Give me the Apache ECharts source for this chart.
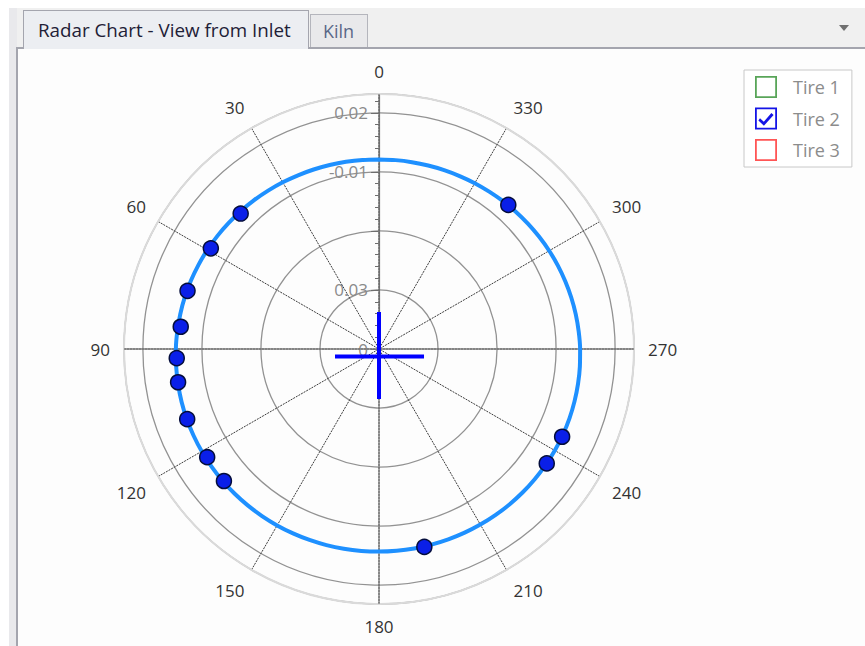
<!DOCTYPE html>
<html>
<head>
<meta charset="utf-8">
<script src="https://cdn.jsdelivr.net/npm/echarts@6/dist/echarts.min.js"></script>
<style>
  html, body { margin:0; padding:0; width:865px; height:646px; background:#ffffff; overflow:hidden; font-family:'Open Sans', sans-serif; }
  .strip { position:absolute; left:9px; top:8px; width:856px; height:40px; background:#f0f0f0; }
  .lstrip { position:absolute; left:9px; top:8px; width:8px; height:638px; background:#e9e9ec; }
  .content { position:absolute; left:16px; top:47px; width:849px; height:599px; background:#fdfdfd; border-left:2px solid #a4a5ae; border-top:2px solid #a4a5ae; box-sizing:border-box; }
  .tab1 { position:absolute; left:23px; top:10px; width:286px; height:39px; background:#eceef2; border:1px solid #a4a5ae; border-bottom:none; box-sizing:border-box; color:#1e2036; font-size:18.8px; line-height:38px; padding-left:14px; white-space:nowrap; }
  .tab2 { position:absolute; left:310px; top:14px; width:58px; height:33px; background:#e9e9eb; border:1px solid #b4b5bc; border-bottom:none; box-sizing:border-box; color:#5a6888; font-size:18px; line-height:32px; padding-left:12px; }
  .arrow { position:absolute; left:839px; top:25px; width:0; height:0; border-left:5px solid transparent; border-right:5px solid transparent; border-top:6px solid #707070; }
  #chart { position:absolute; left:18px; top:49px; width:847px; height:597px; }
</style>
</head>
<body>
<div class="strip"></div>
<div class="lstrip"></div>
<div class="content"></div>
<div class="tab1">Radar Chart - View from Inlet</div>
<div class="tab2">Kiln</div>
<div class="arrow"></div>
<div id="chart"></div>
<script>
// ---- data ----
const angleTickLabels = ['0','30','60','90','120','150','180','210','240','270','300','330'];
const angleTickValues = [0,30,60,90,120,150,180,210,240,270,300,330];
const radiusTickValues = [0,1,2,3,4];
const radiusTickLabels = ['0','0.03','','-0.01','0.02'];

const seriesNames = ['Tire 1','Tire 2','Tire 3'];

// Tire 2 fitted circle: radius read at every 5 degrees
const fitAngles = [0,5,10,15,20,25,30,35,40,45,50,55,60,65,70,75,80,85,90,95,100,105,110,115,120,125,130,135,140,145,150,155,160,165,170,175,
                   180,185,190,195,200,205,210,215,220,225,230,235,240,245,250,255,260,265,270,275,280,285,290,295,300,305,310,315,320,325,330,335,340,345,350,355,360];
const fitRadii  = [3.212,3.215,3.220,3.227,3.236,3.247,3.261,3.275,3.291,3.307,3.324,3.341,3.358,3.374,3.390,3.405,3.418,3.430,3.441,3.449,3.456,3.462,3.466,3.467,3.468,3.467,3.466,3.463,3.459,3.455,3.451,3.447,3.443,3.440,3.437,3.434,
                   3.432,3.431,3.431,3.431,3.432,3.433,3.434,3.436,3.438,3.439,3.439,3.440,3.439,3.437,3.434,3.429,3.423,3.416,3.407,3.396,3.385,3.372,3.358,3.344,3.329,3.313,3.298,3.283,3.269,3.255,3.244,3.233,3.225,3.218,3.214,3.212,3.212];

// Tire 2 measured points
const pointAngles = [45.6,59.1,73.1,83.6,92.6,99.4,110.1,122.2,130.4,192.9,235.7,244.4,318.1];
const pointRadii  = [3.28,3.32,3.39,3.38,3.43,3.45,3.46,3.44,3.45,3.44,3.44,3.44,3.28];

// Tire 2 centre cross (end points)
const crossHAngles = [99.7,260.6];
const crossHRadii  = [0.756,0.773];
const crossVAngles = [0,180];
const crossVRadii  = [0.627,0.847];

// ---- build ----
const zip = (r, a) => r.map((v, i) => [v, a[i]]);
const boxIcon = 'path://M0,0H22V22H0Z M1.8,1.8V20.2H20.2V1.8Z';
const checkIcon = 'path://M0,0H22V22H0Z M1.8,1.8V20.2H20.2V1.8Z M5,10.8L8.8,14.2L16.4,5.6L18.6,7.6L8.9,18.2L3.4,12.9Z';

const chart = echarts.init(document.getElementById('chart'), null, {renderer:'svg'});
const FONT = 'Open Sans';
const center = [361, 300];
const R = 255;

chart.setOption({
  animation: false,
  polar: [
    { center: center, radius: R },
    { center: center, radius: R }
  ],
  angleAxis: [
    {
      polarIndex: 0, type: 'value', min: 0, max: 360, interval: 30,
      startAngle: 90, clockwise: false, z: 2,
      axisLine: { show: true, lineStyle: { color: '#dadada', width: 2 } },
      axisTick: { show: false },
      axisLabel: {
        margin: 14, color: '#333333', fontSize: 17, fontFamily: FONT,
        formatter: v => { const i = angleTickValues.indexOf(v); return i >= 0 ? angleTickLabels[i] : ''; }
      },
      splitLine: { show: true, lineStyle: { color: '#3c3c3c', width: 1, type: [2, 1] } }
    },
    {
      polarIndex: 1, type: 'value', min: 0, max: 360, interval: 90,
      startAngle: 90, clockwise: false, z: 3,
      axisLine: { show: false }, axisTick: { show: false }, axisLabel: { show: false },
      splitLine: { show: true, lineStyle: { color: '#7c7c7c', width: 1.3 } }
    }
  ],
  radiusAxis: [
    {
      polarIndex: 0, type: 'value', min: 0, max: 4.32, interval: 1, z: 1,
      axisLine: { show: true, lineStyle: { color: '#6e6e6e', width: 1.2 } },
      axisTick: { show: true, length: 8, lineStyle: { color: '#6e6e6e' } },
      minorTick: { show: true, splitNumber: 5, length: 4, lineStyle: { color: '#6e6e6e' } },
      axisLabel: {
        margin: 11, color: '#8a8a8a', fontSize: 17, fontFamily: FONT,
        formatter: v => { const i = radiusTickValues.indexOf(v); return i >= 0 ? radiusTickLabels[i] : ''; }
      },
      splitLine: { show: true, lineStyle: { color: '#929292', width: 1.3 } }
    },
    {
      polarIndex: 1, type: 'value', min: 0, max: 4.32,
      axisLine: { show: false }, axisTick: { show: false }, axisLabel: { show: false }, splitLine: { show: false }
    }
  ],
  legend: {
    orient: 'vertical', left: 726, top: 21,
    itemWidth: 22, itemHeight: 22, itemGap: 9.5,
    selectedMode: false,
    backgroundColor: '#ffffff', borderColor: '#c8c8c8', borderWidth: 1,
    padding: [6, 12, 6, 11],
    textStyle: { color: '#8c8c8c', fontSize: 18, fontFamily: FONT, padding: [0, 0, 0, 11] },
    data: [
      { name: seriesNames[0], icon: boxIcon, itemStyle: { color: '#2f8f2f', borderWidth: 0 } },
      { name: seriesNames[1], icon: checkIcon, itemStyle: { color: '#1414e6', borderWidth: 0 } },
      { name: seriesNames[2], icon: boxIcon, itemStyle: { color: '#ff2a2a', borderWidth: 0 } }
    ]
  },
  series: [
    { name: seriesNames[0], type: 'scatter', coordinateSystem: 'polar', polarIndex: 0, data: [], itemStyle: { color: '#2f8f2f' } },
    {
      name: seriesNames[1], type: 'line', coordinateSystem: 'polar', polarIndex: 0,
      data: zip(fitRadii, fitAngles), smooth: 0.3, symbol: 'none', z: 5,
      lineStyle: { color: '#1e90ff', width: 4 }, itemStyle: { color: '#1e90ff' }
    },
    {
      name: seriesNames[1], type: 'scatter', coordinateSystem: 'polar', polarIndex: 0,
      data: zip(pointRadii, pointAngles), symbolSize: 15, z: 6,
      itemStyle: { color: '#0a1fe8', opacity: 1, borderColor: '#040d3c', borderWidth: 1.5 }
    },
    {
      name: seriesNames[1], type: 'line', coordinateSystem: 'polar', polarIndex: 0,
      data: zip(crossHRadii, crossHAngles), symbol: 'none', z: 5,
      lineStyle: { color: '#0000ff', width: 4 }
    },
    {
      name: seriesNames[1], type: 'line', coordinateSystem: 'polar', polarIndex: 0,
      data: zip(crossVRadii, crossVAngles), symbol: 'none', z: 5,
      lineStyle: { color: '#0000ff', width: 4 }
    },
    { name: seriesNames[2], type: 'scatter', coordinateSystem: 'polar', polarIndex: 0, data: [], itemStyle: { color: '#ff2a2a' } }
  ]
});
</script>
</body>
</html>
